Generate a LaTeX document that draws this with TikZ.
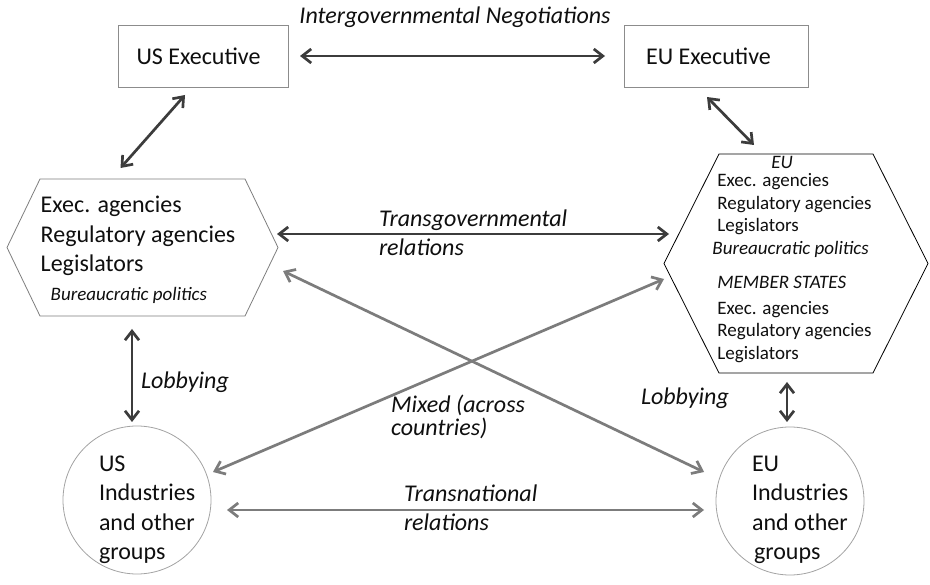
\documentclass[tikz,border=0pt]{standalone}
\usepackage{fontspec}
\setmainfont{Carlito}
\usetikzlibrary{arrows.meta}
\definecolor{LinkDark}{HTML}{3C3C3C}
\definecolor{LinkGrey}{HTML}{7C7C7C}
\definecolor{FrameGrey}{HTML}{8C8C8C}
\definecolor{InkBlack}{HTML}{0F0F0F}

\begin{document}
\begin{tikzpicture}[x=1pt,y=-1pt,
    every node/.style={text=InkBlack,outer sep=0pt},
    bigfont/.style={font=\fontsize{24}{29.5}\selectfont},
    actorbox/.style={bigfont,draw=FrameGrey,line width=0.9pt,minimum height=62},
    hexzone/.style={inner sep=0pt},
    zonetext/.style={bigfont,align=left,inner sep=0pt},
    groupcircle/.style={circle,draw=FrameGrey!80,line width=0.8pt,minimum size=148},
    linklabel/.style={font=\fontsize{24}{29.5}\selectfont\itshape,align=left,anchor=west,inner sep=0pt},
    darklink/.style={{Straight Barb[length=9pt,width=14pt]}-{Straight Barb[length=9pt,width=14pt]},LinkDark,line width=2.7pt},
    greylink/.style={darklink,draw=LinkGrey}]
  \fill[white] (0,0) rectangle (930,585);
  \useasboundingbox (0,0) rectangle (930,585);

  \node[actorbox,minimum width=170] (usexec) at (203,56) {US Executive\hspace*{9pt}};
  \node[actorbox,minimum width=184] (euexec) at (716,56) {EU Executive\hspace*{15pt}};

  \node[hexzone,minimum width=271,minimum height=137] (ushex) at (142.5,247.5) {};
  \draw[FrameGrey!90!black,line width=0.8pt]
    ([xshift=33]ushex.north west) -- ([xshift=-33]ushex.north east) -- (ushex.east)
    -- ([xshift=-33]ushex.south east) -- ([xshift=33]ushex.south west) -- (ushex.west) -- cycle;
  \node[zonetext] (ushextext) at (138,250)
    {Exec. agencies\\Regulatory agencies\\Legislators\\[-1pt]
     {\fontsize{19}{22}\selectfont\itshape\hspace*{10pt}Bureaucratic politics}};

  \node[hexzone,minimum width=264,minimum height=219] (euhex) at (796,263.5) {};
  \draw[black,line width=0.8pt]
    ([xshift=55]euhex.north west) -- ([xshift=-55]euhex.north east) -- (euhex.east)
    -- ([xshift=-55]euhex.south east) -- ([xshift=55]euhex.south west) -- (euhex.west) -- cycle;
  \node[zonetext,font=\fontsize{19}{22.5}\selectfont] (euhextext) at (792,259.5)
    {\hspace*{59pt}\textit{EU}\\[-4pt]
     \hspace*{5pt}Exec. agencies\\
     \hspace*{5pt}Regulatory agencies\\
     \hspace*{5pt}Legislators\\
     \textit{Bureaucratic politics}\\[12pt]
     \hspace*{5pt}\textit{MEMBER STATES}\\[3pt]
     \hspace*{5pt}Exec. agencies\\
     \hspace*{5pt}Regulatory agencies\\
     \hspace*{5pt}Legislators};

  \node[groupcircle] (usind) at (137,500) {};
  \node[zonetext,anchor=west] (usindtext) at (99,510) {US\\Industries\\and other\\groups};
  \node[groupcircle] (euind) at (790,501) {};
  \node[zonetext,anchor=west] (euindtext) at (752,510) {EU\\Industries\\and other\\\hspace*{2pt}groups};

  \draw[darklink] ([xshift=12]usexec.east) -- ([xshift=-19]euexec.west);
  \draw[darklink] ([shift={(-18,8)}]usexec.south) -- ([shift={(-22,-11)}]ushex.north);
  \draw[darklink] ([shift={(-9,10)}]euexec.south) -- ([shift={(-42,-9)}]euhex.north);
  \draw[darklink] ([shift={(-1,-13.5)}]ushex.east) -- ([shift={(5,-29.5)}]euhex.west);
  \draw[greylink] ([shift={(5,23.5)}]ushex.east) -- ([shift={(-12,-29)}]euind.west);
  \draw[greylink] ([shift={(0,15.5)}]euhex.west) -- ([shift={(2,-28)}]usind.east);
  \draw[darklink] ([shift={(-10.5,13)}]ushex.south) -- ([shift={(-5,-4)}]usind.north);
  \draw[darklink] ([shift={(-9,9)}]euhex.south) -- ([shift={(-3,-5)}]euind.north);
  \draw[greylink] ([shift={(16,10)}]usind.east) -- ([shift={(-12,9)}]euind.west);

  \node[linklabel,anchor=center] (intergov) at (455,17) {Intergovernmental Negotiations};
  \node[linklabel] (transgov) at (379,233) {Transgovernmental\\relations};
  \node[linklabel,font=\fontsize{24}{23}\selectfont\itshape] (mixed) at (391,417) {Mixed (across\\countries)};
  \node[linklabel] (lobbyus) at (141,382) {Lobbying};
  \node[linklabel] (lobbyeu) at (641,398) {Lobbying};
  \node[linklabel] (transnat) at (404,508) {Transnational\\relations};
\end{tikzpicture}
\end{document}
